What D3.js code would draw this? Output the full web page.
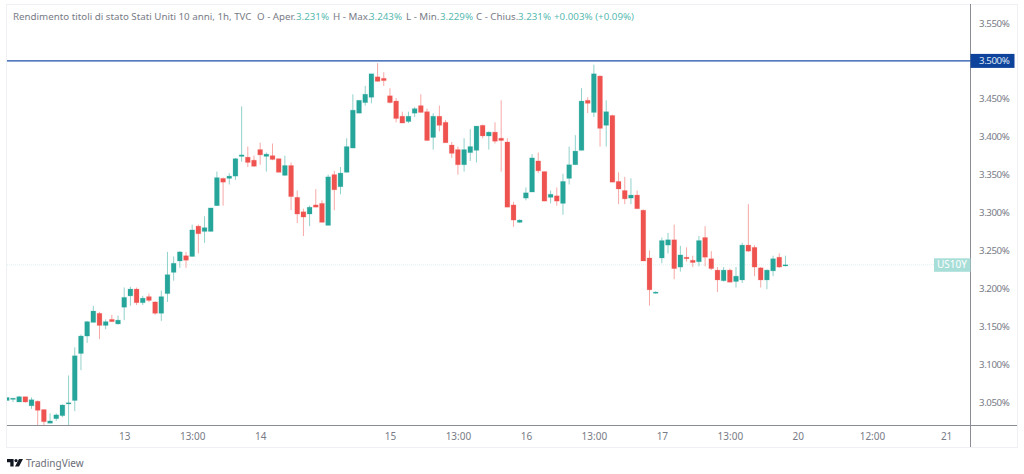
<!DOCTYPE html>
<html>
<head>
<meta charset="utf-8">
<script src="https://cdnjs.cloudflare.com/ajax/libs/d3/7.8.5/d3.min.js"></script>
<style>
  html, body { margin: 0; padding: 0; background: #fff; }
  svg { display: block; }
  text { font-family: "Noto Sans", sans-serif; }
  .axis text { fill: #787b86; font-size: 10px; }
  .price text { font-size: 9.7px; letter-spacing: -0.4px; }
  .axis line, .axis .domain { display: none; }
</style>
</head>
<body>
<div id="chart"></div>
<script>
// hourly candles, values (%)
var open = [3.052,3.054,3.050,3.057,3.045,3.051,3.040,3.022,3.028,3.032,3.048,3.052,3.114,3.137,3.155,3.167,3.151,3.159,3.153,3.175,
  3.190,3.199,3.181,3.189,3.182,3.167,3.193,3.221,3.236,3.243,3.242,3.282,3.275,3.275,3.309,3.345,3.345,3.348,3.374,3.373,
  3.369,3.383,3.374,3.375,3.371,3.349,3.362,3.320,3.301,3.298,3.310,3.312,3.283,3.350,3.334,3.353,3.385,3.431,3.445,3.452,
  3.479,3.477,3.454,3.447,3.427,3.420,3.431,3.441,3.433,3.399,3.427,3.419,3.389,3.383,3.363,3.379,3.382,3.415,3.401,3.406,
  3.398,3.393,3.310,3.287,3.319,3.327,3.368,3.354,3.320,3.322,3.312,3.345,3.363,3.382,3.448,3.432,3.480,3.415,3.428,3.341,
  3.329,3.319,3.323,3.303,3.240,3.194,3.240,3.257,3.264,3.228,3.241,3.237,3.235,3.267,3.239,3.224,3.210,3.224,3.209,3.211,
  3.257,3.254,3.227,3.211,3.223,3.241,3.231];
var high = [3.056,3.055,3.058,3.057,3.056,3.052,3.040,3.035,3.035,3.047,3.085,3.122,3.139,3.157,3.177,3.169,3.159,3.165,3.164,3.201,
  3.202,3.201,3.190,3.193,3.183,3.197,3.248,3.242,3.249,3.248,3.284,3.284,3.295,3.306,3.354,3.346,3.352,3.372,3.440,3.387,
  3.375,3.392,3.379,3.391,3.371,3.375,3.366,3.329,3.305,3.309,3.331,3.316,3.350,3.355,3.360,3.398,3.456,3.448,3.467,3.483,
  3.497,3.485,3.464,3.451,3.433,3.433,3.439,3.456,3.437,3.431,3.441,3.422,3.393,3.387,3.398,3.410,3.414,3.416,3.407,3.419,
  3.448,3.398,3.314,3.291,3.333,3.377,3.379,3.354,3.329,3.333,3.351,3.387,3.402,3.464,3.452,3.495,3.481,3.448,3.429,3.353,
  3.347,3.345,3.329,3.304,3.250,3.196,3.267,3.273,3.284,3.256,3.254,3.243,3.269,3.282,3.249,3.228,3.228,3.226,3.228,3.260,
  3.311,3.257,3.228,3.225,3.243,3.246,3.243];
var low = [3.052,3.050,3.050,3.049,3.041,3.018,3.018,3.022,3.025,3.030,3.018,3.038,3.092,3.128,3.155,3.133,3.146,3.156,3.152,3.158,
  3.177,3.178,3.178,3.182,3.165,3.157,3.182,3.210,3.227,3.227,3.242,3.246,3.260,3.275,3.309,3.309,3.337,3.343,3.367,3.360,
  3.360,3.363,3.354,3.369,3.353,3.348,3.303,3.286,3.269,3.282,3.307,3.287,3.283,3.303,3.324,3.353,3.385,3.431,3.441,3.444,
  3.473,3.467,3.444,3.419,3.418,3.418,3.426,3.432,3.395,3.383,3.407,3.392,3.372,3.350,3.354,3.368,3.366,3.398,3.383,3.391,
  3.354,3.307,3.281,3.286,3.316,3.327,3.352,3.315,3.312,3.309,3.297,3.337,3.363,3.382,3.431,3.426,3.387,3.387,3.340,3.311,
  3.311,3.311,3.305,3.236,3.177,3.193,3.233,3.246,3.212,3.222,3.235,3.228,3.229,3.229,3.224,3.195,3.209,3.208,3.201,3.207,
  3.248,3.216,3.201,3.199,3.216,3.227,3.229];
var close = [3.056,3.055,3.057,3.050,3.053,3.039,3.024,3.025,3.033,3.046,3.049,3.111,3.137,3.156,3.170,3.151,3.156,3.156,3.158,3.188,
  3.199,3.181,3.187,3.184,3.167,3.189,3.218,3.233,3.248,3.237,3.277,3.272,3.280,3.306,3.346,3.340,3.348,3.371,3.376,3.366,
  3.361,3.376,3.377,3.370,3.353,3.362,3.321,3.298,3.294,3.307,3.307,3.287,3.347,3.330,3.352,3.387,3.435,3.448,3.456,3.483,
  3.473,3.474,3.445,3.424,3.418,3.427,3.437,3.432,3.395,3.427,3.415,3.392,3.378,3.363,3.383,3.387,3.414,3.401,3.406,3.394,
  3.395,3.307,3.290,3.290,3.326,3.372,3.355,3.315,3.324,3.315,3.341,3.363,3.381,3.447,3.444,3.483,3.411,3.433,3.340,3.331,
  3.318,3.323,3.305,3.236,3.198,3.195,3.263,3.264,3.226,3.244,3.239,3.234,3.263,3.241,3.226,3.211,3.224,3.208,3.216,3.257,
  3.249,3.228,3.211,3.224,3.239,3.228,3.231];

var priceTicks = [3.05,3.10,3.15,3.20,3.25,3.30,3.35,3.40,3.45,3.50,3.55];
var timeTicks = [19,30,41,62,73,84,95,106,117,128,140,152];
var timeLabels = ["13","13:00","14","15","13:00","16","13:00","17","13:00","20","12:00","21"];
var markedLevel = 3.5;
var lastPrice = 3.231;

var svgWidth = 1024;
var svgHeight = 474;
var plotRight = 970.5;
var plotBottom = 425.5;

var upColor = "#26a69a";
var downColor = "#ef5350";

var svg = d3.select("#chart")
  .append("svg")
  .attr("width", svgWidth)
  .attr("height", svgHeight);

var x = d3.scaleLinear().domain([0, 128]).range([6.8, 797.8]);
var y = d3.scaleLinear().domain([3.05, 3.55]).range([402, 23]);

// outer frame of the widget
svg.append("rect")
  .attr("x", 6.5).attr("y", 4.5)
  .attr("width", 1011).attr("height", 443)
  .attr("fill", "none")
  .attr("stroke", "#eff0f3");

// faint dotted last price line
svg.append("line")
  .attr("x1", 7).attr("x2", plotRight)
  .attr("y1", y(lastPrice)).attr("y2", y(lastPrice))
  .attr("stroke", "#26a69a")
  .attr("stroke-opacity", 0.16)
  .attr("stroke-dasharray", "1,1");

// axes
var rightAxis = d3.axisRight(y)
  .tickValues(priceTicks)
  .tickFormat(d => d.toFixed(3) + "%")
  .tickSize(0)
  .tickPadding(8.5);

svg.append("g")
  .attr("class", "axis price")
  .attr("transform", `translate(${plotRight}, 0)`)
  .call(rightAxis);

var bottomAxis = d3.axisBottom(x)
  .tickValues(timeTicks)
  .tickFormat((d, i) => timeLabels[i])
  .tickSize(0)
  .tickPadding(7.5);

svg.append("g")
  .attr("class", "axis")
  .attr("transform", `translate(0, ${plotBottom})`)
  .call(bottomAxis);

svg.append("line")
  .attr("x1", plotRight).attr("x2", plotRight)
  .attr("y1", 4).attr("y2", 447)
  .attr("stroke", "#8b8d96");
svg.append("line")
  .attr("x1", 7).attr("x2", 1017)
  .attr("y1", plotBottom).attr("y2", plotBottom)
  .attr("stroke", "#8b8d96");

// candles, clipped to the pane
svg.append("clipPath").attr("id", "pane")
  .append("rect").attr("x", 7).attr("y", 5).attr("width", 963).attr("height", 420);

var candles = svg.append("g").attr("clip-path", "url(#pane)");
var bars = candles.selectAll("g")
  .data(d3.range(open.length))
  .enter()
  .append("g")
  .attr("fill", i => close[i] >= open[i] ? upColor : downColor)
  .attr("stroke", i => close[i] >= open[i] ? upColor : downColor);

bars.append("line")
  .attr("x1", i => x(i)).attr("x2", i => x(i))
  .attr("y1", i => y(high[i])).attr("y2", i => y(low[i]))
  .attr("stroke-opacity", 0.5);

bars.append("rect")
  .attr("x", i => x(i) - 2.4)
  .attr("width", 4.8)
  .attr("y", i => y(Math.max(open[i], close[i])))
  .attr("height", i => Math.max(1.2, Math.abs(y(open[i]) - y(close[i]))))
  .attr("stroke-opacity", 0.2);

// horizontal line at 3.500 with its tag
svg.append("line")
  .attr("x1", 7).attr("x2", plotRight)
  .attr("y1", y(markedLevel)).attr("y2", y(markedLevel))
  .attr("stroke", "#1a4fa8")
  .attr("stroke-width", 1.4);

svg.append("rect")
  .attr("x", plotRight).attr("y", y(markedLevel) - 7)
  .attr("width", 44).attr("height", 14)
  .attr("fill", "#0e439c");
svg.append("text")
  .attr("x", 979).attr("y", y(markedLevel) + 3.5)
  .attr("fill", "#dfe7f5")
  .style("font-size", "9.7px")
  .style("letter-spacing", "-0.4px")
  .text(markedLevel.toFixed(3) + "%");

// symbol tag
svg.append("rect")
  .attr("x", 934).attr("y", y(lastPrice) - 6.5)
  .attr("width", 36.5).attr("height", 13.5)
  .attr("fill", "#a8ded8");
svg.append("text")
  .attr("x", 952).attr("y", y(lastPrice) + 3.5)
  .attr("text-anchor", "middle")
  .attr("fill", "#ffffff")
  .style("font-size", "10px")
  .text("US10Y");

// header line
var header = svg.append("text")
  .attr("y", 20)
  .style("font-size", "9.75px")
  .attr("fill", "#787b86");
var headerParts = [
  ["Rendimento titoli di stato Stati Uniti 10 anni, 1h, TVC", "#787b86", 13],
  ["O - Aper.", "#787b86", 257],
  ["3.231%", upColor, 296],
  ["H - Max.", "#787b86", 333],
  ["3.243%", upColor, 369],
  ["L - Min.", "#787b86", 406],
  ["3.229%", upColor, 440],
  ["C - Chius.", "#787b86", 476],
  ["3.231%", upColor, 518],
  ["+0.003% (+0.09%)", upColor, 554]
];
headerParts.forEach(function(p) {
  header.append("tspan")
    .attr("x", p[2])
    .attr("fill", p[1])
    .attr("fill-opacity", p[1] === upColor ? 0.8 : 1)
    .text(p[0]);
});

// logo
var logo = svg.append("g").attr("transform", "translate(7, 459)").attr("fill", "#131722");
logo.append("path").attr("d", "M0 0H6.6V7.6H3.3V3.2H0Z");
logo.append("circle").attr("cx", 9).attr("cy", 1.6).attr("r", 1.6);
logo.append("path").attr("d", "M12 0H16L12 7.6H8Z");
svg.append("text")
  .attr("x", 26).attr("y", 467)
  .attr("fill", "#6a6d78")
  .style("font-size", "10px")
  .text("TradingView");
</script>
</body>
</html>
